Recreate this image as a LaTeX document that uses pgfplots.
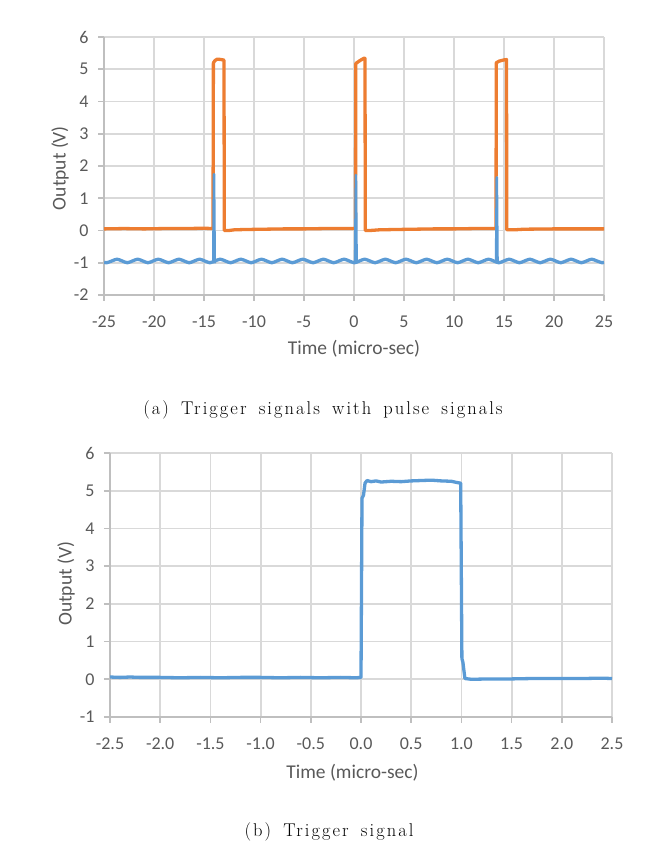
\documentclass[border=0pt]{standalone}
\usepackage{fontspec}
\usepackage{pgfplots}
\pgfplotsset{compat=1.18}
\newfontfamily\carl{Carlito}
\newfontfamily\capfont[LetterSpace=11,WordSpace=1.6]{Latin Modern Roman}
\definecolor{exblue}{HTML}{5B9BD5}
\definecolor{exorange}{HTML}{ED7D31}
\definecolor{gridc}{HTML}{D9D9D9}
\definecolor{axc}{HTML}{BFBFBF}
\definecolor{txt}{HTML}{595959}
\pgfplotsset{excel/.style={
  scale only axis, enlargelimits=false, anchor=south west,
  axis lines*=left, axis line style={draw=axc,line width=2pt,-},
  grid=major, grid style={draw=gridc,line width=1.8pt},
  tick align=outside, major tick length=6pt, tick style={draw=axc,line width=1.6pt},
  tick label style={font=\carl\fontsize{18}{18}\selectfont, text=txt},
  /pgf/number format/assume math mode=true,
  label style={font=\carl\fontsize{19.5}{20}\selectfont, text=txt},
  xticklabel style={yshift=-11pt}, yticklabel style={xshift=-6pt},
}}
\begin{document}
\begin{tikzpicture}[x=1pt,y=1pt]
\useasboundingbox (0,0) rectangle (662,849);
\begin{axis}[excel, at={(104pt,554pt)}, width=500pt, height=258pt,
  xmin=-25, xmax=25, ymin=-2, ymax=6,
  xtick={-25,-20,...,25}, ytick={-2,-1,...,6},
  xlabel={Time (micro-sec)}, ylabel={Output (V)},
  xlabel style={at={(axis description cs:0.5,-0.209)}, anchor=center},
  ylabel style={at={(axis description cs:-0.088,0.492)}, anchor=center}]
\addplot[exorange, line width=3.3pt, line join=round] coordinates {
(-25,0.05) (-23,0.06) (-21,0.05) (-19,0.06) (-17,0.06) (-15,0.07) (-14.1,0.06)
(-14.06,5.2) (-13.9,5.27) (-13.7,5.31) (-13.5,5.31) (-13.3,5.3) (-13.1,5.29) (-13.0,5.28)
(-12.97,0.0) (-12.5,0.0) (-12.0,0.02) (-11,0.03) (-9,0.04) (-7,0.05) (-5,0.05) (-3,0.06) (-1,0.06) (0.15,0.06)
(0.18,5.18) (0.6,5.27) (1.05,5.35) (1.1,5.33)
(1.13,0.0) (1.6,0.0) (2.5,0.02) (4,0.03) (6,0.04) (8,0.05) (10,0.05) (12,0.06) (14.2,0.06)
(14.23,5.2) (14.5,5.25) (15.0,5.29) (15.25,5.3)
(15.28,0.02) (16,0.02) (17,0.04) (20,0.05) (22,0.05) (25,0.05)};
\addplot[exblue, line width=3.3pt, smooth, line join=round] coordinates {
(-25,-0.982) (-24.732,-1.0) (-24.216,-0.945) (-23.7,-0.89) (-23.184,-0.945) (-22.668,-1.0) (-22.152,-0.945) (-21.636,-0.89) (-21.12,-0.945) (-20.604,-1.0) (-20.088,-0.945) (-19.572,-0.89) (-19.056,-0.945) (-18.54,-1.0) (-18.024,-0.945) (-17.508,-0.89) (-16.992,-0.945) (-16.476,-1.0) (-15.96,-0.945) (-15.444,-0.89) (-14.928,-0.945) (-14.412,-1.0) (-13.896,-0.945) (-13.38,-0.89) (-12.864,-0.945) (-12.348,-1.0) (-11.832,-0.945) (-11.316,-0.89) (-10.8,-0.945) (-10.284,-1.0) (-9.768,-0.945) (-9.252,-0.89) (-8.736,-0.945) (-8.22,-1.0) (-7.704,-0.945) (-7.188,-0.89) (-6.672,-0.945) (-6.156,-1.0) (-5.64,-0.945) (-5.124,-0.89) (-4.608,-0.945) (-4.092,-1.0) (-3.576,-0.945) (-3.06,-0.89) (-2.544,-0.945) (-2.028,-1.0) (-1.512,-0.945) (-0.996,-0.89) (-0.48,-0.945) (0.036,-1.0) (0.552,-0.945) (1.068,-0.89) (1.584,-0.945) (2.1,-1.0) (2.616,-0.945) (3.132,-0.89) (3.648,-0.945) (4.164,-1.0) (4.68,-0.945) (5.196,-0.89) (5.712,-0.945) (6.228,-1.0) (6.744,-0.945) (7.26,-0.89) (7.776,-0.945) (8.292,-1.0) (8.808,-0.945) (9.324,-0.89) (9.84,-0.945) (10.356,-1.0) (10.872,-0.945) (11.388,-0.89) (11.904,-0.945) (12.42,-1.0) (12.936,-0.945) (13.452,-0.89) (13.968,-0.945) (14.484,-1.0) (15.0,-0.945) (15.516,-0.89) (16.032,-0.945) (16.548,-1.0) (17.064,-0.945) (17.58,-0.89) (18.096,-0.945) (18.612,-1.0) (19.128,-0.945) (19.644,-0.89) (20.16,-0.945) (20.676,-1.0) (21.192,-0.945) (21.708,-0.89) (22.224,-0.945) (22.74,-1.0) (23.256,-0.945) (23.772,-0.89) (24.288,-0.945) (24.804,-1.0) (25,-0.99)};
\addplot[exblue, line width=2.6pt, line join=round] coordinates {(-14.07,-0.98) (-14.0,1.75) (-13.93,-1.02)};
\addplot[exblue, line width=2.6pt, line join=round] coordinates {(0.12,-0.98) (0.19,1.72) (0.26,-1.02)};
\addplot[exblue, line width=2.6pt, line join=round] coordinates {(14.21,-0.98) (14.28,1.65) (14.35,-1.02)};
\end{axis}
\node[font=\capfont\fontsize{18.5}{20}\selectfont] at (323,439) {(a) Trigger signals with pulse signals};
\begin{axis}[excel, at={(110pt,132pt)}, width=502pt, height=264pt,
  xmin=-2.5, xmax=2.5, ymin=-1, ymax=6,
  xtick={-2.5,-2,...,2.5}, ytick={-1,0,...,6},
  xticklabel style={/pgf/number format/.cd, fixed, fixed zerofill, precision=1},
  xlabel={Time (micro-sec)}, ylabel={Output (V)},
  xlabel style={at={(axis description cs:0.483,-0.212)}, anchor=center},
  ylabel style={at={(axis description cs:-0.0876,0.505)}, anchor=center}]
\addplot[exblue, line width=3.3pt, line join=round] coordinates {
(-2.5,0.06) (-2.4,0.05) (-2.3,0.06) (-2.2,0.05) (-2.0,0.05) (-1.8,0.04) (-1.6,0.05) (-1.4,0.04) (-1.2,0.05) (-1.0,0.05) (-0.8,0.04) (-0.6,0.05) (-0.4,0.04) (-0.2,0.05) (-0.05,0.04) (0.0,0.05)
(0.01,4.8) (0.025,4.88) (0.04,5.2) (0.06,5.27) (0.1,5.24) (0.15,5.26) (0.2,5.23) (0.3,5.25) (0.4,5.24) (0.5,5.26) (0.6,5.27) (0.7,5.28) (0.8,5.26) (0.9,5.25) (0.95,5.22) (0.993,5.2)
(1.005,0.55) (1.015,0.45) (1.035,0.02) (1.1,0.0) (1.3,0.01) (1.5,0.01) (1.7,0.02) (2.0,0.02) (2.2,0.02) (2.4,0.03) (2.5,0.02)};
\end{axis}
\node[font=\capfont\fontsize{18.5}{20}\selectfont] at (329,17) {(b) Trigger signal};
\end{tikzpicture}
\end{document}
